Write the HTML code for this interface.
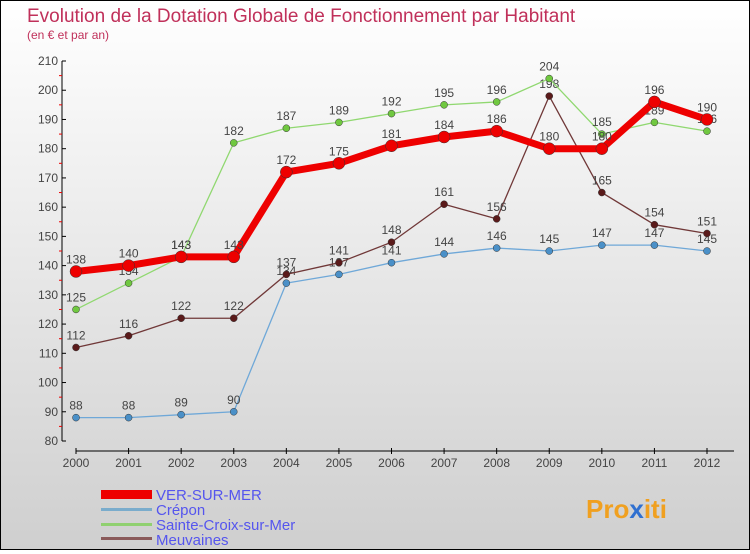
<!DOCTYPE html>
<html><head><meta charset="utf-8"><style>
body{margin:0;width:750px;height:550px;overflow:hidden;font-family:"Liberation Sans",sans-serif}
#wrap{position:relative;width:748px;height:548px;border:1px solid #000;background:linear-gradient(#fff,#cfcfcf)}
</style></head><body>
<div id="wrap">
<svg id="chart" width="748" height="548" font-family="Liberation Sans, sans-serif">
<text x="26" y="21" font-size="19" fill="#c0305a">Evolution de la Dotation Globale de Fonctionnement par Habitant</text>
<text x="26" y="38" font-size="12" fill="#c0305a">(en € et par an)</text>
<g id="axes"></g><g id="series"></g>
<g>
<rect x="100" y="489" width="51" height="9" fill="#e00"/>
<text x="155" y="499" font-size="15" fill="#5555ee">VER-SUR-MER</text>
<rect x="100" y="507" width="51" height="3" fill="#7aaccc"/>
<text x="155" y="514" font-size="15" fill="#5555ee">Crépon</text>
<rect x="100" y="522" width="51" height="3" fill="#90d070"/>
<text x="155" y="529" font-size="15" fill="#5555ee">Sainte-Croix-sur-Mer</text>
<rect x="100" y="536" width="51" height="3" fill="#8a5a5a"/>
<text x="155" y="544" font-size="15" fill="#5555ee">Meuvaines</text>
</g>
<text x="585" y="517" font-size="26" font-weight="bold" fill="#f0a020">Pro<tspan fill="#3070d0">x</tspan>iti</text>
</svg></div>
<script>
const years=[2000,2001,2002,2003,2004,2005,2006,2007,2008,2009,2010,2011,2012];
const ver=[138,140,143,143,172,175,181,184,186,180,180,196,190];
const crepon=[88,88,89,90,134,137,141,144,146,145,147,147,145];
const scm=[125,134,143,182,187,189,192,195,196,204,185,189,186];
const meuv=[112,116,122,122,137,141,148,161,156,198,165,154,151];
const yTicks=[80,90,100,110,120,130,140,150,160,170,180,190,200,210];
const NS="http://www.w3.org/2000/svg";
function X(i){return 75+i*(706-75)/(years.length-1);}
function Y(v){return 440-(v-80)*(380/130);}
function mk(t,a,p){const e=document.createElementNS(NS,t);for(const k in a)e.setAttribute(k,a[k]);p.appendChild(e);return e;}
const ax=document.getElementById('axes');
let l=mk('line',{x1:61,y1:60,x2:61,y2:440,stroke:'#000'},ax);


yTicks.forEach(v=>{
 mk('line',{x1:61,y1:Y(v),x2:65,y2:Y(v),stroke:'#000'},ax);
 if(v<210)mk('line',{x1:58,y1:Y(v+5),x2:61,y2:Y(v+5),stroke:'#e00'},ax);
 const t=mk('text',{x:57,y:Y(v)+4,'text-anchor':'end','font-size':12,fill:'#444'},ax);t.textContent=v;
 
 
});
l=mk('line',{x1:75,y1:450,x2:733,y2:450,stroke:'#000'},ax);


years.forEach((y,i)=>{
 mk('line',{x1:X(i),y1:447,x2:X(i),y2:453,stroke:'#000'},ax);
 const t=mk('text',{x:X(i),y:466,'text-anchor':'middle','font-size':12,fill:'#444'},ax);t.textContent=y;
 
 
});
const sg=document.getElementById('series');
function draw(vals,color,w,r,dot,name){
 const g=mk('g',{},sg);
 
 
 mk('polyline',{points:vals.map((v,i)=>X(i)+','+Y(v)).join(' '),fill:'none',stroke:color,'stroke-width':w,'stroke-linejoin':'round'},g);
 vals.forEach((v,i)=>{
  const c=mk('circle',{cx:X(i),cy:Y(v),r:r,fill:dot,stroke:'#333','stroke-width':0.5},g);
  
  
  const t=mk('text',{x:X(i),y:Y(v)-8,'text-anchor':'middle','font-size':12,fill:'#444'},g);t.textContent=v;
  
  
 });
}
draw(crepon,'#6fa8d8',1.3,3.5,'#4a90c8','crepon');
draw(meuv,'#703838',1.3,3.5,'#5a1a1a','meuvaines');
draw(scm,'#90d870',1.3,3.5,'#70c840','sainte-croix');
draw(ver,'#ee0000',7,6,'#ee0000','ver-sur-mer');
</script>
</body></html>
